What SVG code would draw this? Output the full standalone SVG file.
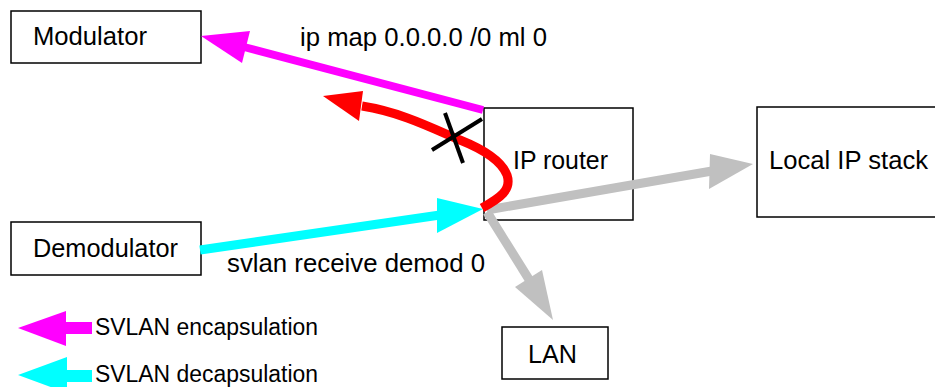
<svg xmlns="http://www.w3.org/2000/svg" width="935" height="387" viewBox="0 0 935 387">
<style>
.box{fill:#fff;stroke:#000;stroke-width:1.5}
text{font-family:"Liberation Sans",Arial,sans-serif;font-size:26px;fill:#000}
.lg{font-size:23px}
.pink{stroke:#ff00ff;fill:none;stroke-width:8}
.cyan{stroke:#00ffff;fill:none;stroke-width:9}
.gray{stroke:#c0c0c0;fill:none;stroke-width:9}
.red{stroke:#ff0000;fill:none;stroke-width:9}
</style>
<rect width="935" height="387" fill="#fff"/>
<g id="modulator"><rect class="box" x="11" y="11" width="190" height="52"/><text x="33" y="45" textLength="114" lengthAdjust="spacingAndGlyphs">Modulator</text></g>
<g id="demodulator"><rect class="box" x="11" y="222" width="190" height="53"/><text x="33" y="257" textLength="145" lengthAdjust="spacingAndGlyphs">Demodulator</text></g>
<g id="iprouter"><rect class="box" x="484" y="108" width="149" height="112"/><text x="513" y="169" textLength="95" lengthAdjust="spacingAndGlyphs">IP router</text></g>
<g id="localip"><rect class="box" x="757" y="107" width="190" height="110"/><text x="769" y="169" textLength="159" lengthAdjust="spacingAndGlyphs">Local IP stack</text></g>
<g id="lan"><rect class="box" x="502" y="327" width="106" height="52"/><text x="528" y="363" textLength="49" lengthAdjust="spacingAndGlyphs">LAN</text></g>
<g id="connectors">
<line class="gray" x1="487" y1="210" x2="712" y2="171"/>
<polygon fill="#c0c0c0" points="753,164 710,154 709,189"/>
<line class="gray" x1="487" y1="212" x2="530" y2="281"/>
<polygon fill="#c0c0c0" points="553,320 515,287 542,270"/>
<line class="pink" x1="483" y1="110" x2="244" y2="47"/>
<polygon fill="#ff00ff" points="201,36 250,31 242,63"/>
<line class="cyan" x1="200" y1="250" x2="440" y2="215"/>
<polygon fill="#00ffff" points="483,209 437,198 437,233"/>
<path class="red" d="M482,208 C500,198 512,190 507,175 C502,162 485,150 460,140 C430,127 400,112 362,106"/>
<polygon fill="#ff0000" points="323,96 363,91 359,121"/>
<line stroke="#000" stroke-width="4" x1="432" y1="150" x2="482" y2="119"/>
<line stroke="#000" stroke-width="4" x1="445" y1="113" x2="463" y2="163"/>
<text x="300" y="46" textLength="247" lengthAdjust="spacingAndGlyphs">ip map 0.0.0.0 /0 ml 0</text>
<text x="227" y="272" textLength="258" lengthAdjust="spacingAndGlyphs">svlan receive demod 0</text>
</g>
<g id="legend">
<polygon fill="#ff00ff" points="18,328 66,311 66,346"/>
<rect fill="#ff00ff" x="65" y="322" width="27" height="12"/>
<text class="lg" x="95" y="335" textLength="223" lengthAdjust="spacingAndGlyphs">SVLAN encapsulation</text>
<polygon fill="#00ffff" points="18,375 67,357 67,393"/>
<rect fill="#00ffff" x="66" y="370" width="26" height="12"/>
<text class="lg" x="95" y="382" textLength="223" lengthAdjust="spacingAndGlyphs">SVLAN decapsulation</text>
</g>
</svg>
